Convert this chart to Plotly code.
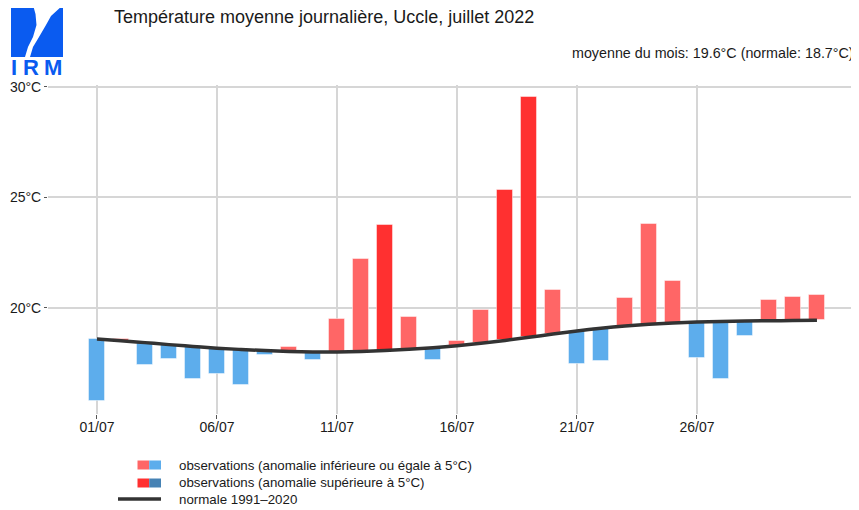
import plotly.graph_objects as go

days = list(range(1, 32))
observed = [15.8, 18.6, 17.4, 17.7, 16.8, 17.0, 16.5, 17.85, 18.25, 17.65,
            19.5, 22.2, 23.75, 19.6, 17.65, 18.5, 19.9, 25.35, 29.55, 20.8,
            17.45, 17.6, 20.45, 23.8, 21.2, 17.75, 16.8, 18.75, 20.35, 20.5, 20.6]
normal = [18.6, 18.52, 18.43, 18.34, 18.26, 18.18, 18.12, 18.07, 18.03, 18.01,
          18.01, 18.03, 18.07, 18.13, 18.2, 18.29, 18.4, 18.53, 18.67, 18.82,
          18.96, 19.08, 19.18, 19.26, 19.32, 19.36, 19.39, 19.41, 19.42, 19.43, 19.44]
tick_days = [1, 6, 11, 16, 21, 26]
tick_labels = ["01/07", "06/07", "11/07", "16/07", "21/07", "26/07"]
y_ticks = [20, 25, 30]
y_labels = ["20°C", "25°C", "30°C"]

title = "Température moyenne journalière, Uccle, juillet 2022"
subtitle = "moyenne du mois: 19.6°C (normale: 18.7°C)"
legend_labels = ["observations (anomalie inférieure ou égale à 5°C)",
                 "observations (anomalie supérieure à 5°C)",
                 "normale 1991–2020"]

C_RED_L, C_BLUE_L = "#FF6666", "#5DADEC"
C_RED_D, C_BLUE_D = "#FF3030", "#4682B4"

anom = [o - n for o, n in zip(observed, normal)]
colors = []
for a in anom:
    if a > 5:
        colors.append(C_RED_D)
    elif a < -5:
        colors.append(C_BLUE_D)
    elif a >= 0:
        colors.append(C_RED_L)
    else:
        colors.append(C_BLUE_L)

fig = go.Figure()
fig.add_trace(go.Bar(x=days, y=anom, base=normal, width=0.64,
                     marker=dict(color=colors, line=dict(color="rgba(255,255,255,0.45)", width=1)),
                     showlegend=False, hoverinfo="skip"))
fig.add_trace(go.Scatter(x=days, y=normal, mode="lines",
                         line=dict(color="#333333", width=3.5, shape="spline"),
                         showlegend=False, hoverinfo="skip"))

OFF = 8  # page body margin
W, H = 859 - OFF, 510 - OFF
# panel in page pixels: left 48, right 858, top 85, bottom 414
ml = 48 - OFF
mr = (859 - OFF) - (858 - OFF)
mt = 85 - OFF
mb = H - (414 - OFF)
pw, ph = W - ml - mr, H - mt - mb

def px(x):
    return (x - OFF - ml) / pw

def py(y):
    return (H - mb - (y - OFF)) / ph

TXT = "#1a1a1a"
fig.update_layout(
    width=W, height=H, margin=dict(l=ml, r=mr, t=mt, b=mb),
    paper_bgcolor="white", plot_bgcolor="white",
    font=dict(family="Liberation Sans, Arial, sans-serif", color=TXT, size=14),
    bargap=0,
    xaxis=dict(range=[-1.04, 32.71], tickvals=tick_days, ticktext=tick_labels,
               showgrid=True, gridcolor="#d6d6d6", gridwidth=1.5, zeroline=False,
               ticks="outside", ticklen=4, tickcolor="#555", tickfont=dict(size=14, color=TXT),
               ticklabelstandoff=-4, showline=False),
    yaxis=dict(range=[15.2, 30.09], tickvals=y_ticks, ticktext=y_labels,
               showgrid=True, gridcolor="#d6d6d6", gridwidth=1.5, zeroline=False,
               ticks="outside", ticklen=3, tickcolor="#555", tickfont=dict(size=14, color=TXT),
               showline=False),
)

ann = []
ann.append(dict(text=title, x=px(112), y=py(17), xref="paper", yref="paper",
                xanchor="left", yanchor="middle", showarrow=False,
                font=dict(size=18, color=TXT)))
ann.append(dict(text=subtitle, x=px(856), y=py(53), xref="paper", yref="paper",
                xanchor="right", yanchor="middle", showarrow=False,
                font=dict(size=14.3, color=TXT)))
for i, lab in enumerate(legend_labels):
    ann.append(dict(text=lab, x=px(177), y=py([465, 482, 499][i]), xref="paper", yref="paper",
                    xanchor="left", yanchor="middle", showarrow=False,
                    font=dict(size=13.3, color=TXT)))
# logo letters
LOGO = "#0A5BF0"
for ch, cx in [("I", 14), ("R", 30.5), ("M", 52.7)]:
    ann.append(dict(text="<b>" + ch + "</b>", x=px(cx), y=py(67), xref="paper", yref="paper",
                    xanchor="center", yanchor="middle", showarrow=False,
                    font=dict(size=22, color=LOGO)))

shapes = []
# legend swatches
for row, (cr, cb) in enumerate([(C_RED_L, C_BLUE_L), (C_RED_D, C_BLUE_D)]):
    y0, y1 = [460.5, 478.5][row], [469.5, 487.5][row]
    shapes.append(dict(type="rect", xref="paper", yref="paper", x0=px(137.5), x1=px(149.2),
                       y0=py(y1), y1=py(y0), fillcolor=cr, line=dict(width=0)))
    shapes.append(dict(type="rect", xref="paper", yref="paper", x0=px(149.2), x1=px(161),
                       y0=py(y1), y1=py(y0), fillcolor=cb, line=dict(width=0)))
shapes.append(dict(type="line", xref="paper", yref="paper", x0=px(118), x1=px(161),
                   y0=py(499), y1=py(499), line=dict(color="#333333", width=3.5)))
# logo block
shapes.append(dict(type="rect", xref="paper", yref="paper", x0=px(11), x1=px(63),
                   y0=py(57), y1=py(5), fillcolor=LOGO, line=dict(width=0)))
pts = [(33, 5), (35.5, 14), (36.5, 25), (33, 37), (28, 47), (25, 57),
       (30, 57), (33, 47), (39, 37), (46, 25), (51, 16), (63, 5)]
path = "M " + " L ".join(f"{px(x):.5f},{py(y):.5f}" for x, y in pts) + " Z"
shapes.append(dict(type="path", xref="paper", yref="paper", path=path,
                   fillcolor="white", line=dict(width=0)))

fig.update_layout(annotations=ann, shapes=shapes)
fig.write_html("out.html")
